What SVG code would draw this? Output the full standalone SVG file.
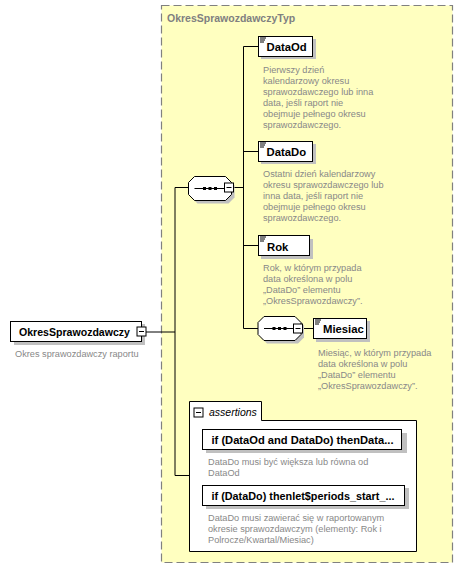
<svg xmlns="http://www.w3.org/2000/svg" width="463" height="581" viewBox="0 0 463 581">
<defs>
<style>
.bg{fill:#ffffff}
.type{fill:#ffffc0;stroke:#808080;stroke-width:1.2;stroke-dasharray:8,4}
.title{font-family:"Liberation Sans",Arial,sans-serif;font-weight:bold;font-size:10.5px;fill:#808080}
.box{fill:#ffffff;stroke:#000000;stroke-width:1}
.shadow{fill:#c0c0c0}
.name{font-family:"Liberation Sans",Arial,sans-serif;font-weight:bold;font-size:11.3px;fill:#000000}
.desc{font-family:"Liberation Sans",Arial,sans-serif;font-size:9.2px;fill:#888888}
.line{fill:none;stroke:#000000;stroke-width:1}
.icon{stroke:#000000;stroke-width:1}
.ital{font-family:"Liberation Sans",Arial,sans-serif;font-style:italic;font-size:10.5px;fill:#000000}
</style>
<g id="seqshape">
<polygon class="shadow" points="9,3 40,3 46,9 46,21 40,27 9,27 3,21 3,9"/>
<polygon class="box" points="6,0 37,0 43,6 43,18 37,24 6,24 0,18 0,6"/>
<line class="icon" x1="6" y1="12" x2="37" y2="12"/>
<rect x="14.5" y="10.5" width="3" height="3" fill="#000"/>
<rect x="20" y="10.5" width="3" height="3" fill="#000"/>
<rect x="25.5" y="10.5" width="3" height="3" fill="#000"/>
</g>
<g id="minus">
<rect x="0.5" y="0.5" width="9" height="9" fill="#fff" stroke="#000" stroke-width="1"/>
<line x1="2.5" y1="5" x2="7.5" y2="5" stroke="#000" stroke-width="1"/>
</g>
<g id="docicon">
<line x1="0" y1="0.5" x2="6" y2="0.5" class="icon"/>
<line x1="0" y1="2.5" x2="5" y2="2.5" class="icon"/>
<line x1="0" y1="4.5" x2="4" y2="4.5" class="icon"/>
</g>
</defs>
<rect class="bg" x="0" y="0" width="463" height="581"/>

<g id="OkresSprawozdawczyTyp">
<rect class="type" x="161.5" y="5.5" width="291" height="557"/>
<text class="title" x="167" y="22">OkresSprawozdawczyTyp</text>
</g>

<g id="connectors">
<polyline class="line" points="146,332 175,332"/>
<polyline class="line" points="175,187.5 175,475.5 189,475.5"/>
<polyline class="line" points="175,187.5 189,187.5"/>
<polyline class="line" points="233,187.5 243.5,187.5"/>
<polyline class="line" points="258,46.5 243.5,46.5 243.5,328.5 258,328.5"/>
<polyline class="line" points="243.5,151.5 258,151.5"/>
<polyline class="line" points="243.5,245.5 258,245.5"/>
<polyline class="line" points="302,328.5 313,328.5"/>
</g>

<g id="OkresSprawozdawczy">
<rect class="shadow" x="14" y="324" width="131" height="21"/>
<rect class="box" x="10.5" y="321.5" width="131" height="20"/>
<text class="name" x="19" y="336" textLength="111" lengthAdjust="spacingAndGlyphs">OkresSprawozdawczy</text>
<use href="#minus" x="136.5" y="326.5"/>
<text class="desc" x="15" y="356.5">Okres sprawozdawczy raportu</text>
</g>

<g id="sequence1">
<use href="#seqshape" x="188.5" y="176.5"/>
<use href="#minus" x="224" y="182.5"/>
</g>

<g id="DataOd">
<rect class="shadow" x="261" y="39" width="55" height="20"/>
<rect class="box" x="258.5" y="36.5" width="54" height="20"/>
<use href="#docicon" x="260" y="37.5"/>
<text class="name" x="266.5" y="51">DataOd</text>
<text class="desc" x="263" y="73">Pierwszy dzień</text>
<text class="desc" x="263" y="84">kalendarzowy okresu</text>
<text class="desc" x="263" y="95">sprawozdawczego lub inna</text>
<text class="desc" x="263" y="106">data, jeśli raport nie</text>
<text class="desc" x="263" y="117">obejmuje pełnego okresu</text>
<text class="desc" x="263" y="128">sprawozdawczego.</text>
</g>

<g id="DataDo">
<rect class="shadow" x="261" y="144" width="55" height="20"/>
<rect class="box" x="258.5" y="141.5" width="54" height="20"/>
<use href="#docicon" x="260" y="142.5"/>
<text class="name" x="266.5" y="156">DataDo</text>
<text class="desc" x="263" y="177">Ostatni dzień kalendarzowy</text>
<text class="desc" x="263" y="188">okresu sprawozdawczego lub</text>
<text class="desc" x="263" y="199">inna data, jeśli raport nie</text>
<text class="desc" x="263" y="210">obejmuje pełnego okresu</text>
<text class="desc" x="263" y="221">sprawozdawczego.</text>
</g>

<g id="Rok">
<rect class="shadow" x="261" y="239" width="52" height="20"/>
<rect class="box" x="258.5" y="235.5" width="51" height="20"/>
<use href="#docicon" x="260" y="236.5"/>
<text class="name" x="267" y="250.5">Rok</text>
<text class="desc" x="263" y="271">Rok, w którym przypada</text>
<text class="desc" x="263" y="282">data określona w polu</text>
<text class="desc" x="263" y="293">„DataDo” elementu</text>
<text class="desc" x="263" y="304">„OkresSprawozdawczy”.</text>
</g>

<g id="sequence2">
<use href="#seqshape" x="258" y="316.5"/>
<use href="#minus" x="293" y="323.5"/>
</g>

<g id="Miesiac">
<rect class="shadow" x="316" y="321" width="54" height="21"/>
<rect class="box" x="313.5" y="318.5" width="53" height="20"/>
<use href="#docicon" x="315" y="319.5"/>
<text class="name" x="323" y="333">Miesiac</text>
<text class="desc" x="318" y="355.5">Miesiąc, w którym przypada</text>
<text class="desc" x="318" y="366.5">data określona w polu</text>
<text class="desc" x="318" y="377.5">„DataDo” elementu</text>
<text class="desc" x="318" y="388.5">„OkresSprawozdawczy”.</text>
</g>

<g id="assertions">
<path class="box" d="M189.5,401.5 H261.5 V420.5 H416.5 V551.5 H189.5 Z"/>
<use href="#minus" x="193.5" y="407.5"/>
<text class="ital" x="209" y="415.5">assertions</text>
</g>

<g id="assertion1">
<rect class="shadow" x="206" y="433" width="201" height="20"/>
<rect class="box" x="202.5" y="429.5" width="199" height="20"/>
<text class="name" x="211.5" y="443.5" textLength="182" lengthAdjust="spacingAndGlyphs">if (DataOd and DataDo) thenData...</text>
<text class="desc" x="208" y="465">DataDo musi być większa lub równa od</text>
<text class="desc" x="208" y="476">DataOd</text>
</g>

<g id="assertion2">
<rect class="shadow" x="206" y="488" width="203" height="21"/>
<rect class="box" x="202.5" y="485.5" width="202" height="20"/>
<text class="name" x="211.5" y="499.5" textLength="183" lengthAdjust="spacingAndGlyphs">if (DataDo) thenlet$periods_start_...</text>
<text class="desc" x="208" y="521">DataDo musi zawierać się w raportowanym</text>
<text class="desc" x="208" y="532">okresie sprawozdawczym (elementy: Rok i</text>
<text class="desc" x="208" y="543">Polrocze/Kwartal/Miesiac)</text>
</g>
</svg>
